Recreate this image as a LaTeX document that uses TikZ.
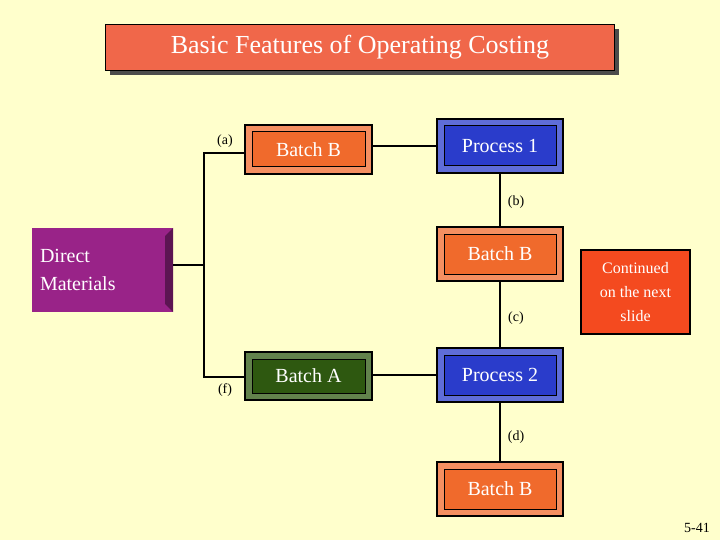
\documentclass[tikz,border=0pt]{standalone}
\usepackage{fontspec}
\setmainfont{Liberation Serif}
\begin{document}
\begin{tikzpicture}[x=1pt,y=-1pt,
  bev/.style={draw=black,line width=1.5pt,fill=#1!75!white,text=white,font=\fontsize{20}{22}\selectfont,inner sep=0pt,
    path picture={\draw[black,line width=1pt,fill=#1] ([shift={(7pt,-7pt)}]path picture bounding box.north west) rectangle ([shift={(-7pt,7pt)}]path picture bounding box.south east);}},
  ln/.style={line width=1.5pt},
  lab/.style={font=\fontsize{14}{16}\selectfont}]
\definecolor{bg}{HTML}{FFFFCC}
\definecolor{org}{HTML}{F06A2C}
\definecolor{blu}{HTML}{2A3CCB}
\definecolor{grn}{HTML}{2E5810}
\definecolor{pur}{HTML}{992388}
\definecolor{ttl}{HTML}{F0674A}
\fill[bg] (0,0) rectangle (720,540);
\useasboundingbox (0,0) rectangle (720,540);
% title
\fill[black!70] (110,29) rectangle (619,75);
\node[draw=black,line width=1pt,fill=ttl,text=white,minimum width=509pt,minimum height=46pt,anchor=north west,font=\fontsize{26}{28}\selectfont] (title) at (105,24) {Basic Features of Operating Costing};
% boxes
\node[bev=org,minimum width=127pt,minimum height=49pt] (bb1) at (308.5,149.5) {Batch B};
\node[bev=blu,minimum width=126pt,minimum height=54pt] (p1) at (500,146) {Process 1};
\node[bev=org,minimum width=126pt,minimum height=54pt] (bb2) at (500,254) {Batch B};
\node[bev=blu,minimum width=126pt,minimum height=54pt] (p2) at (500,375) {Process 2};
\node[bev=org,minimum width=126pt,minimum height=54pt] (bb3) at (500,489) {Batch B};
\node[bev=grn,minimum width=127pt,minimum height=48pt] (ba) at (308.5,376) {Batch A};
\node[fill=pur,text=white,minimum width=141pt,minimum height=84pt,align=left,text width=125pt,font=\fontsize{20}{28}\selectfont,
  path picture={\fill[pur!60!black] (path picture bounding box.north east) -- ([shift={(-8pt,-8pt)}]path picture bounding box.north east) -- ([shift={(-8pt,8pt)}]path picture bounding box.south east) -- (path picture bounding box.south east) -- cycle;}] (dm) at (102.5,270) {Direct\\Materials};
\node[draw=black,line width=1.5pt,fill=org!70!red,text=white,minimum width=109pt,minimum height=84pt,align=center,font=\fontsize{16}{24}\selectfont] (cont) at (635.5,292) {Continued\\on the next\\slide};
% tree
\coordinate (j) at (204,265);
\coordinate (jt) at (204,153);
\coordinate (jb) at (204,377);
\draw[ln] (dm.east |- j) -- (j);
\draw[ln] (bb1.west |- jt) -- (jt) -- (jb) -- (ba.west |- jb);
\draw[ln] (bb1.east |- p1) -- (p1.west);
\draw[ln] (ba.east |- p2) -- (p2.west);
\draw[ln] (p1.south) -- (bb2.north);
\draw[ln] (bb2.south) -- (p2.north);
\draw[ln] (p2.south) -- (bb3.north);
% labels
\node[lab] (la) at (225,141) {(a)};
\node[lab] (lf) at (225,390) {(f)};
\node[lab] (lb) at (516,202) {(b)};
\node[lab] (lc) at (516,318) {(c)};
\node[lab] (ld) at (516,437) {(d)};
\node[lab] (pg) at (697,528) {5-41};
\end{tikzpicture}
\end{document}
